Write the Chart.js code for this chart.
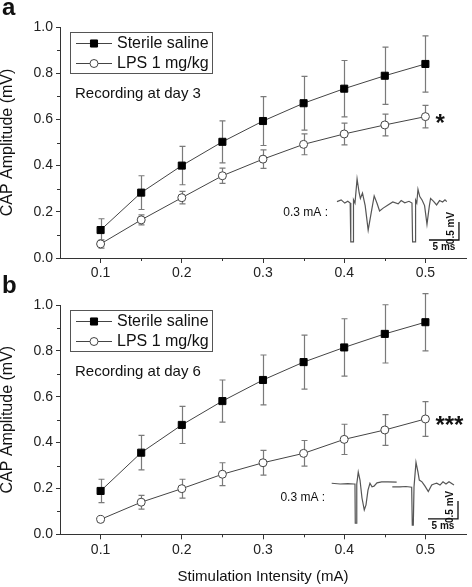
<!DOCTYPE html>
<html>
<head>
<meta charset="utf-8">
<script src="https://cdn.jsdelivr.net/npm/chart.js@4.4.1/dist/chart.umd.min.js"></script>
<style>
  body { margin: 0; background: #fff; }
  #wrap { position: relative; width: 472px; height: 587px; }
  canvas { position: absolute; }
</style>
</head>
<body>
<div id="wrap">
  <canvas id="chartA" width="472" height="290" style="left:0;top:0"></canvas>
  <canvas id="chartB" width="472" height="322" style="left:0;top:265px"></canvas>
  <canvas id="insetA" width="195" height="85" style="left:275px;top:170px"></canvas>
  <canvas id="insetB" width="200" height="85" style="left:270px;top:450px"></canvas>
</div>
<script>
// values
const stimulation = [0.1, 0.15, 0.2, 0.25, 0.3, 0.35, 0.4, 0.45, 0.5];
const seriesNames = ['Sterile saline', 'LPS 1 mg/kg'];

const salineDay3 = [0.121, 0.283, 0.400, 0.503, 0.593, 0.670, 0.733, 0.789, 0.840];
const salineDay3Err = [0.049, 0.073, 0.083, 0.091, 0.106, 0.116, 0.122, 0.124, 0.122];
const lpsDay3 = [0.061, 0.165, 0.261, 0.356, 0.428, 0.492, 0.537, 0.576, 0.612];
const lpsDay3Err = [0.018, 0.022, 0.027, 0.033, 0.040, 0.045, 0.047, 0.047, 0.049];

const salineDay6 = [0.189, 0.356, 0.477, 0.581, 0.673, 0.751, 0.815, 0.874, 0.925];
const salineDay6Err = [0.051, 0.075, 0.081, 0.092, 0.109, 0.118, 0.125, 0.127, 0.125];
const lpsDay6 = [0.065, 0.140, 0.199, 0.262, 0.312, 0.353, 0.414, 0.455, 0.503];
const lpsDay6Err = [0.004, 0.030, 0.041, 0.050, 0.054, 0.056, 0.066, 0.067, 0.076];

const xTicks = [0.1, 0.2, 0.3, 0.4, 0.5];
const xMinorTicks = [0.15, 0.25, 0.35, 0.45];
const yTicks = [0, 0.2, 0.4, 0.6, 0.8, 1.0];
const yMinorTicks = [0.1, 0.3, 0.5, 0.7, 0.9];

// example CAP traces at 0.3 mA (ms, mV)
const traceDay3Time = [0, 0.7, 1.3, 1.8, 2.2, 2.3, 2.7, 2.75, 3.0, 3.35, 3.7, 3.9, 4.25, 4.7, 5.2, 5.7, 6.2, 6.7, 7.1, 7.7, 8.5, 9.3, 10.2, 10.7, 11.3, 12.0, 12.5, 12.6, 13.05, 13.1, 13.3, 13.5, 13.8, 14.2, 14.6, 15.0, 15.4, 15.6, 16.1, 16.6, 17.1, 17.6, 18.0, 18.3];
const traceDay3Volt = [0.01, 0.06, -0.03, 0.02, -0.03, -1.11, -1.11, 0.06, -0.03, 0.64, 0.25, 0.1, 0.25, -0.1, -0.78, -0.3, 0.17, -0.05, -0.25, -0.17, -0.08, 0.0, -0.05, 0.04, -0.02, 0.02, -0.03, -1.11, -1.11, 0.05, -0.03, 0.35, 0.15, 0.05, -0.1, -0.62, -0.1, 0.1, 0.02, -0.08, 0.04, 0.0, 0.06, 0.01];
const traceDay6Time = [0, 1.4, 2.7, 3.7, 3.88, 3.93, 4.1, 4.18, 4.43, 4.72, 5.05, 5.43, 5.72, 6.05, 6.38, 6.72, 7.05, 7.55, 8.33, 9.38, 10.83, 10.9, 10.1, 11.38, 12.38, 13.33, 13.43, 13.6, 13.72, 14.05, 14.38, 14.6, 15.05, 15.55, 16.1, 16.67, 17.05, 17.5, 18.05, 18.55, 19.05, 19.55, 20.38];
const traceDay6Volt = [0.02, 0, 0.01, 0, 0, -1.09, -1.09, 0, 0.33, 0.11, -0.39, -0.72, -0.58, -0.17, 0.02, -0.08, -0.06, 0.03, 0.06, 0.06, 0.05, null, -0.08, -0.08, -0.07, -0.09, -1.14, -1.14, -0.08, 0.6, 0.33, 0.11, 0.06, -0.06, -0.21, -0.03, 0, 0.02, -0.03, 0.06, 0, 0.06, -0.03];
const scaleBarDay3Time = [15.33, 20.33, 20.33];
const scaleBarDay3Volt = [-1.056, -1.056, -0.556];
const scaleBarDay6Time = [16.05, 21.05, 21.05];
const scaleBarDay6Volt = [-0.97, -0.97, -0.47];

const FONT = '"Liberation Sans", Arial, sans-serif';
Chart.defaults.font.family = FONT;
Chart.defaults.color = '#222';

function points(xs, ys) {
  return xs.map((x, i) => ({ x: x, y: ys[i] }));
}

const errorBars = {
  id: 'errorBars',
  beforeDatasetsDraw(chart) {
    const ctx = chart.ctx;
    const xs = chart.scales.x, ys = chart.scales.y;
    ctx.save();
    ctx.strokeStyle = '#7a7a7a';
    ctx.lineWidth = 1.2;
    chart.data.datasets.forEach(ds => {
      ds.data.forEach((p, j) => {
        const e = ds.errors[j];
        const px = Math.round(xs.getPixelForValue(p.x)) + 0.5;
        const top = ys.getPixelForValue(p.y + e);
        const bot = ys.getPixelForValue(p.y - e);
        ctx.beginPath();
        ctx.moveTo(px, top); ctx.lineTo(px, bot);
        ctx.moveTo(px - 3, top); ctx.lineTo(px + 3, top);
        ctx.moveTo(px - 3, bot); ctx.lineTo(px + 3, bot);
        ctx.stroke();
      });
    });
    ctx.restore();
  }
};

const panelDecor = {
  id: 'panelDecor',
  afterDraw(chart, args, o) {
    const ctx = chart.ctx, a = chart.chartArea;
    const xs = chart.scales.x, ys = chart.scales.y;
    ctx.save();
    // minor ticks
    ctx.strokeStyle = '#333';
    ctx.lineWidth = 1;
    ctx.beginPath();
    xMinorTicks.forEach(v => {
      const px = Math.round(xs.getPixelForValue(v)) + 0.5;
      ctx.moveTo(px, a.bottom); ctx.lineTo(px, a.bottom + 3);
    });
    yMinorTicks.forEach(v => {
      const py = Math.round(ys.getPixelForValue(v)) + 0.5;
      ctx.moveTo(a.left, py); ctx.lineTo(a.left - 3, py);
    });
    ctx.stroke();

    // legend box
    const bx = Math.round(a.left) + 10, by = Math.round(a.top) + 5;
    ctx.strokeStyle = '#555';
    ctx.strokeRect(bx + 0.5, by + 0.5, 142, 41);
    chart.data.datasets.forEach((ds, i) => {
      const cy = by + 11 + i * 20;
      ctx.beginPath();
      ctx.strokeStyle = ds.borderColor;
      ctx.lineWidth = 1;
      ctx.moveTo(bx + 6, cy + 0.5); ctx.lineTo(bx + 42, cy + 0.5);
      ctx.stroke();
      ctx.fillStyle = ds.pointBackgroundColor;
      ctx.strokeStyle = ds.pointBorderColor;
      Chart.helpers.drawPoint(ctx, { pointStyle: ds.pointStyle, radius: ds.pointRadius, borderWidth: ds.pointBorderWidth, rotation: 0 }, bx + 24, cy + 0.5);
      ctx.fillStyle = '#111';
      ctx.font = '16px ' + FONT;
      ctx.textBaseline = 'middle';
      ctx.textAlign = 'left';
      ctx.fillText(ds.label, bx + 47, cy + 1);
    });

    ctx.font = '15px ' + FONT;
    ctx.fillText(o.dayText, a.left + 15, a.top + 67);

    // significance stars
    const lps = chart.data.datasets[1].data;
    const last = lps[lps.length - 1];
    ctx.font = 'bold 24px ' + FONT;
    ctx.textBaseline = 'alphabetic';
    ctx.fillText(o.star, xs.getPixelForValue(last.x) + 10, ys.getPixelForValue(last.y) + 14);

    // panel letter
    ctx.font = 'bold 24px ' + FONT;
    ctx.fillText(o.letter, 2, o.letterY);
    ctx.restore();
  }
};

const insetNotes = {
  id: 'insetNotes',
  afterDraw(chart, args, o) {
    const ctx = chart.ctx, xs = chart.scales.x, ys = chart.scales.y;
    const bar = chart.data.datasets[1].data;
    ctx.save();
    ctx.fillStyle = '#111';
    ctx.font = '12px ' + FONT;
    ctx.textAlign = 'right';
    ctx.textBaseline = 'middle';
    ctx.fillText('0.3 mA :', xs.getPixelForValue(o.labelAt[0]), ys.getPixelForValue(o.labelAt[1]));
    ctx.font = 'bold 10px ' + FONT;
    ctx.textAlign = 'center';
    ctx.textBaseline = 'top';
    ctx.fillText('5 ms', (xs.getPixelForValue(bar[0].x) + xs.getPixelForValue(bar[1].x)) / 2, ys.getPixelForValue(bar[0].y) + 2);
    ctx.translate(xs.getPixelForValue(bar[2].x) - 3, (ys.getPixelForValue(bar[1].y) + ys.getPixelForValue(bar[2].y)) / 2 - 3);
    ctx.rotate(-Math.PI / 2);
    ctx.textBaseline = 'bottom';
    ctx.fillText('0.5 mV', 0, 0);
    ctx.restore();
  }
};

function buildPanel(id, saline, salineErr, lps, lpsErr, o) {
  return new Chart(document.getElementById(id), {
    type: 'line',
    data: {
      datasets: [
        {
          label: seriesNames[0], data: points(stimulation, saline), errors: salineErr,
          borderColor: '#444', borderWidth: 1, pointStyle: 'rect', pointRadius: 5,
          pointBackgroundColor: '#000', pointBorderColor: '#000', pointBorderWidth: 1
        },
        {
          label: seriesNames[1], data: points(stimulation, lps), errors: lpsErr,
          borderColor: '#444', borderWidth: 1, pointStyle: 'circle', pointRadius: 4,
          pointBackgroundColor: '#fff', pointBorderColor: '#444', pointBorderWidth: 1
        }
      ]
    },
    options: {
      responsive: false,
      animation: false,
      devicePixelRatio: 1,
      layout: { padding: { top: o.top, right: 2, left: 0, bottom: 0 } },
      plugins: { legend: { display: false }, tooltip: { enabled: false }, panelDecor: o },
      scales: {
        x: {
          type: 'linear', min: 0.05, max: 0.55,
          afterBuildTicks: s => { s.ticks = xTicks.map(v => ({ value: v })); },
          afterFit: s => { s.height = o.xHeight; },
          ticks: { callback: v => v.toFixed(1), font: { size: 14 }, padding: 2, autoSkip: false, maxRotation: 0 },
          grid: { drawOnChartArea: false, tickLength: 5, color: '#333' },
          border: { color: '#333' },
          title: { display: o.xTitle, text: 'Stimulation Intensity (mA)', font: { size: 15 }, color: '#111', padding: { top: 0, bottom: 1 } }
        },
        y: {
          min: 0, max: 1,
          afterBuildTicks: s => { s.ticks = yTicks.map(v => ({ value: v })); },
          afterFit: s => { s.width = 60; },
          ticks: { callback: v => v.toFixed(1), font: { size: 14 }, padding: 3 },
          grid: { drawOnChartArea: false, tickLength: 4, color: '#333' },
          border: { color: '#333' },
          title: { display: true, text: 'CAP Amplitude (mV)', font: { size: 16, lineHeight: 1 }, color: '#111', padding: { top: 0, bottom: 0 } }
        }
      }
    },
    plugins: [errorBars, panelDecor]
  });
}

function buildInset(id, tTime, tVolt, bTime, bVolt, o) {
  return new Chart(document.getElementById(id), {
    type: 'line',
    data: {
      datasets: [
        { data: points(tTime, tVolt), borderColor: '#555', borderWidth: 1.2, pointRadius: 0, spanGaps: false },
        { data: points(bTime, bVolt), borderColor: '#111', borderWidth: 1.3, pointRadius: 0 }
      ]
    },
    options: {
      responsive: false,
      animation: false,
      devicePixelRatio: 1,
      layout: { padding: 0 },
      plugins: { legend: { display: false }, tooltip: { enabled: false }, insetNotes: o },
      scales: {
        x: { type: 'linear', display: false, min: o.tMin, max: o.tMax },
        y: { display: false, min: o.vMin, max: o.vMax }
      }
    },
    plugins: [insetNotes]
  });
}

buildPanel('chartA', salineDay3, salineDay3Err, lpsDay3, lpsDay3Err,
  { top: 27, xHeight: 32, xTitle: false, dayText: 'Recording at day 3', star: '*', letter: 'a', letterY: 15 });
buildPanel('chartB', salineDay6, salineDay6Err, lpsDay6, lpsDay6Err,
  { top: 40, xHeight: 52.7, xTitle: true, dayText: 'Recording at day 6', star: '***', letter: 'b', letterY: 28 });

buildInset('insetA', traceDay3Time, traceDay3Volt, scaleBarDay3Time, scaleBarDay3Volt,
  { tMin: -10.33, tMax: 22.17, vMin: -1.472, vMax: 0.889, labelAt: [-1.5, -0.31] });
buildInset('insetB', traceDay6Time, traceDay6Volt, scaleBarDay6Time, scaleBarDay6Volt,
  { tMin: -10.28, tMax: 23.05, vMin: -1.417, vMax: 0.944, labelAt: [-1.1, -0.39] });
</script>
</body>
</html>
